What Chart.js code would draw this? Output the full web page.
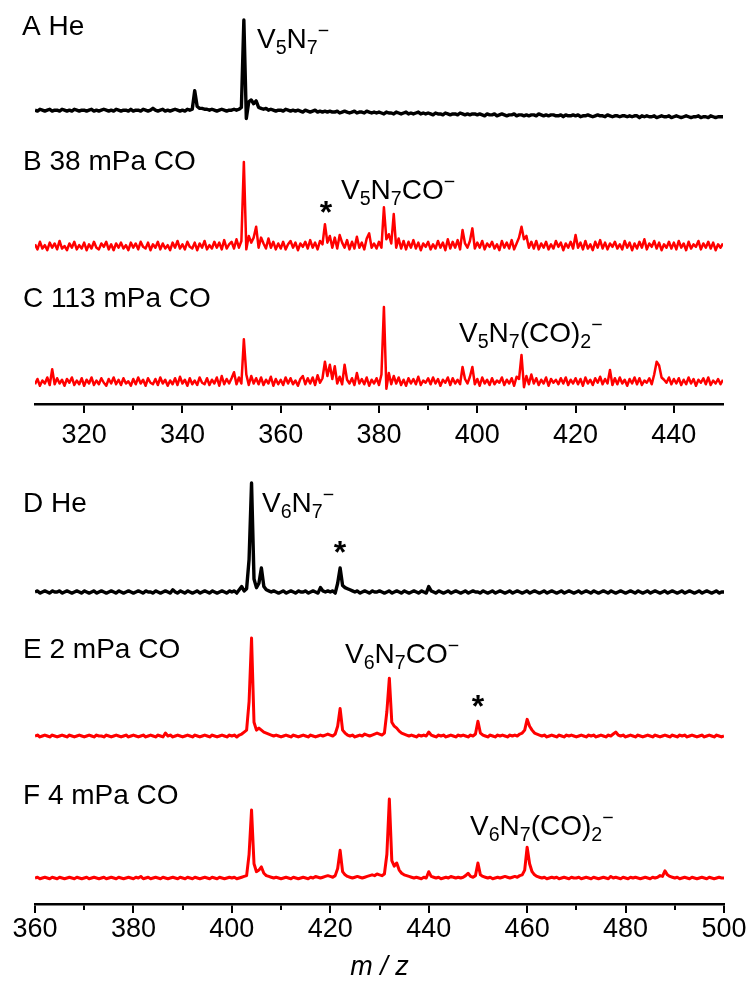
<!DOCTYPE html>
<html>
<head>
<meta charset="utf-8">
<script src="https://cdn.jsdelivr.net/npm/chart.js@4.4.1/dist/chart.umd.min.js"></script>
<style>
  html, body { margin: 0; padding: 0; background: #fff; }
  #wrap { position: relative; width: 753px; height: 996px; overflow: hidden; background: #fff; }
  canvas { position: absolute; left: 0; }
</style>
</head>
<body>
<div id="wrap">
  <canvas id="cTop" width="753" height="460" style="top:0px"></canvas>
  <canvas id="cBot" width="753" height="536" style="top:460px"></canvas>
</div>
<script>
// ---------------- DATA ----------------
// m/z sampling grid of the recorded spectra (0.5 u)
const MZ_STEP = 0.5;
const MZ_TOP_RANGE = [310, 450];
const MZ_BOT_RANGE = [360, 500];

// Relative intensities (%, tallest peak of each trace = 100), one value per 0.5 u
// Top panel traces (m/z 310 ... 450)
const spectrumA_He = [
  3,2,4,3,2,3,4,2,3,3,2,4,3,2,3,2,4,3,2,3,
  3,2,3,4,2,3,2,3,4,3,2,3,2,4,3,2,3,3,2,4,
  2,3,3,2,4,3,2,3,5,3,2,3,4,2,3,2,3,4,3,2,
  3,2,4,3,4,24,7,5,5,4,4,3,4,3,2,3,4,3,2,3,
  3,4,3,4,6,100,-6,12,14,10,13,6,5,4,5,3,4,3,2,3,
  3,2,4,3,2,3,2,3,2,1,3,2,1,2,3,1,2,1,2,1,
  2,1,1,2,0,1,2,1,0,1,2,0,1,1,0,2,1,0,1,0,
  1,0,-1,1,0,0,-1,1,0,-1,0,1,-1,0,-1,0,1,-1,0,-1,
  0,-1,-2,0,-1,-1,-2,0,-1,-2,-1,-1,-2,0,-1,-2,-1,-2,-1,-1,
  -2,-1,-2,-3,-1,-2,-2,-1,-3,-2,-1,-2,-3,-2,-2,-1,-3,-2,-2,-3,
  -2,-3,-2,-2,-3,-1,-2,-3,-2,-3,-2,-2,-3,-3,-2,-4,-2,-3,-3,-2,
  -3,-2,-4,-3,-3,-2,-3,-4,-3,-2,-3,-3,-4,-2,-3,-4,-3,-3,-4,-3,
  -3,-4,-3,-4,-3,-3,-5,-3,-4,-3,-4,-4,-3,-5,-4,-3,-4,-4,-3,-5,
  -4,-3,-4,-5,-4,-3,-4,-5,-4,-4,-3,-5,-4,-4,-5,-3,-4,-5,-4,-4,
  -4
];
const spectrumB_38mPa = [
  2,-4,5,-3,1,-5,4,-2,3,-4,6,-3,0,-5,3,-2,5,-4,1,-3,
  4,-5,2,-3,5,-2,-4,3,-1,5,-4,2,-5,3,-2,4,-3,1,-5,4,
  -2,3,-4,5,-1,-3,4,-5,2,-2,5,-4,3,-3,1,-5,4,-2,6,-3,
  2,-4,5,-1,-3,4,-5,3,-2,6,-4,1,-3,5,-2,4,-4,7,-3,2,
  5,-3,8,-2,6,100,-4,12,4,10,23,-2,10,3,-3,9,-2,5,-4,3,
  -3,5,-4,2,6,-2,4,-5,3,-1,5,-3,7,-2,4,-4,6,2,26,4,
  12,-2,10,-3,13,4,-2,7,-4,5,-3,11,-2,4,-4,9,15,-2,3,-3,
  5,-2,46,8,14,3,38,-2,9,-3,6,-4,5,-2,7,-3,4,-5,3,-1,
  5,-4,2,-3,6,-2,4,-5,8,-3,5,-2,7,-4,19,3,-2,6,21,-3,
  4,-2,6,-4,3,-1,5,-3,2,-5,6,-2,4,-3,7,-4,3,10,23,8,
  12,-2,5,-3,6,-4,3,-2,5,-4,2,-3,6,-1,4,-5,3,-2,5,-3,
  13,-2,4,-4,6,-3,2,-5,5,-2,7,-3,4,-4,3,-1,5,-3,2,-4,
  6,-2,4,-5,3,-3,5,-2,8,-4,3,-1,6,-3,4,-5,2,-2,5,-3,
  4,-4,6,-2,3,-5,5,-3,2,-1,6,-4,3,-2,5,-3,4,-5,2,-2,
  3
];
const spectrumC_113mPa = [
  -3,4,-5,2,-2,6,-4,17,-3,5,-2,3,-5,4,-1,6,-4,2,-3,5,
  -5,3,-2,6,-4,2,-3,5,-1,-5,4,-2,6,-3,3,-4,5,-2,1,-5,
  4,-3,6,-2,3,-5,5,-1,-3,4,-4,6,-2,3,-5,2,-3,5,-4,7,
  -2,3,-5,5,-3,2,-4,6,-1,-3,5,-4,3,-2,6,-5,8,-3,4,-2,
  5,13,-3,6,-2,57,10,-4,8,-2,5,-3,6,-4,3,-2,7,-5,4,-3,
  3,-4,6,-2,5,-3,2,-5,4,8,-3,5,-2,6,-4,9,-1,5,27,8,
  23,4,21,-2,7,-3,23,3,-2,5,-4,12,-2,4,-3,6,-5,3,-2,5,
  -4,10,100,-9,12,-3,8,-2,6,-4,3,-5,5,-2,4,-3,7,-4,2,-1,
  5,-3,6,-2,4,-5,3,-1,6,-4,5,-2,3,-3,20,4,-2,7,20,-3,
  4,-5,6,-2,3,-4,5,-3,2,-1,6,-4,3,-2,5,-5,7,4,36,-7,
  8,-3,10,-2,5,-4,3,-2,6,-5,4,-1,3,-3,5,-2,6,-4,3,-2,
  5,-3,4,-5,6,-2,3,-4,5,-1,7,-3,4,-2,16,-4,5,-3,6,-2,
  3,-5,4,-2,6,-3,5,-4,2,-1,5,-3,10,27,22,6,3,-1,6,-3,
  4,-2,5,-4,3,-3,6,-2,4,-5,3,-1,5,-3,6,-4,2,-2,4,-3,
  3
];
// Bottom panel traces (m/z 360 ... 500)
const spectrumD_He = [
  0,1,-1,0,1,0,-1,1,0,0,1,-1,0,1,0,-1,0,1,0,-1,
  1,0,-1,0,1,-1,0,1,0,-1,0,1,0,-1,1,0,-1,0,1,0,
  -1,0,1,0,-1,1,0,0,-1,1,0,-1,0,1,0,-1,2,0,-1,1,
  0,-1,1,0,-1,0,1,-1,0,1,0,-1,1,0,-1,0,1,0,-1,1,
  0,1,-1,2,5,1,3,30,100,12,4,8,22,5,2,1,0,1,0,-1,
  0,1,-1,0,1,0,-1,1,0,0,1,-1,0,1,0,-1,4,1,0,1,
  0,1,-1,8,22,6,4,3,2,1,0,1,-1,0,1,0,-1,1,0,0,
  1,0,-1,0,1,-1,0,1,0,-1,1,0,-1,0,1,0,-1,1,0,-1,
  5,1,0,-1,1,0,-1,0,1,-1,0,1,0,-1,0,1,-1,0,1,0,
  0,-1,1,0,-1,0,1,-1,0,1,0,-1,0,1,-1,0,1,0,-1,0,
  1,-1,0,1,0,-1,0,1,-1,0,1,0,-1,0,1,-1,0,1,0,-1,
  0,1,-1,0,1,0,-1,1,0,-1,0,1,0,-1,1,0,-1,0,1,0,
  -1,0,1,0,-1,1,0,-1,0,1,-1,0,1,0,-1,0,1,-1,0,1,
  0,-1,0,1,-1,0,1,0,-1,0,1,-1,0,1,0,-1,0,1,-1,0,
  0
];
const spectrumE_2mPa = [
  0,1,-1,0,1,0,-1,1,0,-1,0,1,0,-1,1,0,-1,0,1,0,
  -1,0,1,0,-1,1,0,0,-1,1,0,-1,0,1,0,-1,0,1,-1,0,
  1,0,-1,0,1,-1,0,1,0,-1,1,0,-1,3,0,1,-1,0,1,0,
  -1,0,1,0,-1,1,0,-1,0,1,0,-1,1,0,-1,0,1,0,-1,1,
  0,1,-1,1,2,4,6,35,100,14,6,8,6,4,3,2,1,0,1,0,
  -1,0,1,0,-1,1,0,-1,0,1,0,-1,1,0,-1,0,1,0,1,2,
  1,0,2,10,28,6,3,1,0,1,-1,0,1,0,2,1,0,1,2,3,
  2,1,3,25,59,14,10,8,5,3,2,1,0,1,0,-1,1,0,1,0,
  4,1,0,-1,1,0,1,-1,0,1,0,-1,1,0,1,0,-1,1,0,2,
  15,3,1,0,-1,1,0,-1,1,0,1,0,-1,1,0,1,0,2,3,6,
  17,10,6,3,2,1,0,1,-1,0,1,0,-1,1,0,-1,1,0,1,0,
  -1,0,1,0,-1,1,0,1,-1,0,1,0,-1,1,0,2,4,1,0,1,
  -1,0,1,0,-1,1,0,-1,0,1,0,-1,1,0,-1,0,1,0,-1,1,
  0,-1,1,0,1,-1,0,1,0,-1,0,1,-1,0,1,0,-1,1,0,-1,
  0
];
const spectrumF_4mPa = [
  0,1,-1,0,1,0,-1,1,0,-1,1,0,-1,0,1,0,-1,1,0,-1,
  0,1,-1,0,1,0,-1,0,1,-1,0,1,0,-1,1,0,-1,0,1,0,
  -1,1,0,2,-1,0,1,-1,0,1,0,-1,1,0,-1,0,1,0,-1,1,
  0,-1,1,0,-1,1,0,-1,0,1,0,-1,1,0,-1,1,0,-1,0,1,
  0,1,-1,0,1,2,3,30,86,18,8,10,14,6,3,2,1,0,1,0,
  -1,0,1,0,-1,1,0,-1,0,1,0,-1,1,0,2,1,0,1,2,3,
  2,1,3,12,35,8,4,2,1,0,1,2,1,0,1,2,3,4,3,5,
  4,3,5,30,100,22,15,19,10,6,4,3,2,1,0,1,0,-1,1,0,
  8,2,1,0,1,-1,0,1,0,2,1,0,1,0,1,3,6,2,1,3,
  19,4,2,1,0,1,-1,0,1,0,1,2,1,0,1,2,1,3,4,10,
  39,18,8,4,2,1,0,1,-1,0,1,0,1,-1,0,1,0,-1,1,0,
  0,1,-1,0,1,0,-1,1,0,-1,0,1,0,-1,2,0,1,0,-1,1,
  0,-1,1,0,1,0,-1,0,1,0,-1,1,0,1,3,2,9,4,2,1,
  0,1,-1,0,1,0,-1,1,0,-1,0,1,0,-1,1,0,-1,0,1,0,
  0
];

// Text
const panelLabels = ['A He', 'B 38 mPa CO', 'C 113 mPa CO', 'D He', 'E 2 mPa CO', 'F 4 mPa CO'];
const ionLabels = ['V_5N_7^−', 'V_5N_7CO^−', 'V_5N_7(CO)_2^−', 'V_6N_7^−', 'V_6N_7CO^−', 'V_6N_7(CO)_2^−'];
const xAxisTitle = 'm / z';

// ---------------- LAYOUT / STYLE ----------------
const FONT = '"Liberation Sans", Arial, Helvetica, sans-serif';
const BLACK = '#000000';
const RED = '#ff0000';
const LAYOUT = {
  top:    { canvasTop: 0,   height: 460, areaBottom: 404, padLeft: 35, padRight: 30, tickPad: 6 },
  bottom: { canvasTop: 460, height: 536, areaBottom: 904, padLeft: 35, padRight: 29, tickPad: 0 }
};
// page pixel of baseline (0 %) and of 100 % for each trace
const TRACE_PX = {
  A: [113, 20], B: [246, 162], C: [382, 307],
  D: [592, 483], E: [736, 638], F: [878, 799]
};
// text placement (page px, x = left, y = baseline)
const LABEL_POS = [
  { x: 22, y: 35 }, { x: 23, y: 170 }, { x: 23, y: 307 },
  { x: 23, y: 512 }, { x: 23, y: 658 }, { x: 23, y: 804 }
];
const ION_POS = [
  { x: 257, y: 48 }, { x: 341, y: 199 }, { x: 459, y: 342 },
  { x: 262, y: 512 }, { x: 345, y: 663 }, { x: 470, y: 835 }
];
const STAR_POS = [ { x: 326, y: 207 }, { x: 340, y: 547 }, { x: 478, y: 701 } ];
const TEXT_SIZE = 28;
const TICK_SIZE = 27;

// ---------------- HELPERS ----------------
function mzGrid(range) {
  const out = [];
  const n = Math.round((range[1] - range[0]) / MZ_STEP);
  for (let i = 0; i <= n; i++) out.push(range[0] + i * MZ_STEP);
  return out;
}
function toXY(mz, vals) {
  if (mz.length !== vals.length) console.error('length mismatch', mz.length, vals.length);
  return mz.map((x, i) => ({ x: x, y: vals[i] }));
}
function yRange(lay, key) {
  const areaTop = 0;
  const areaBottom = lay.areaBottom - lay.canvasTop;
  const H = areaBottom - areaTop;
  const base = TRACE_PX[key][0] - lay.canvasTop;
  const top = TRACE_PX[key][1] - lay.canvasTop;
  const R = 100 * H / (base - top);
  const max = (base - areaTop) / H * R;
  return { min: max - R, max: max };
}
function parseRich(s) {
  const parts = [];
  for (let i = 0; i < s.length; i++) {
    const c = s[i];
    if (c === '_' || c === '^') {
      parts.push({ t: s[i + 1], sub: c === '_', sup: c === '^' });
      i++;
    } else {
      const last = parts[parts.length - 1];
      if (last && !last.sub && !last.sup) last.t += c; else parts.push({ t: c });
    }
  }
  return parts;
}
function drawRich(ctx, text, x, y, size) {
  let cx = x;
  for (const p of parseRich(text)) {
    const s = (p.sub || p.sup) ? size * 0.7 : size;
    ctx.font = s + 'px ' + FONT;
    const dy = p.sub ? size * 0.22 : (p.sup ? -size * 0.38 : 0);
    ctx.fillText(p.t, cx, y + dy);
    cx += ctx.measureText(p.t).width;
  }
}

const textLayer = {
  id: 'textLayer',
  afterDraw(chart, args, opts) {
    const ctx = chart.ctx;
    ctx.save();
    ctx.fillStyle = BLACK;
    ctx.textBaseline = 'alphabetic';
    for (const it of opts.items) {
      if (it.star) {
        ctx.font = 'bold 32px ' + FONT;
        ctx.textAlign = 'center';
        const m = ctx.measureText('*');
        const y = it.y + (m.actualBoundingBoxAscent - m.actualBoundingBoxDescent) / 2;
        ctx.fillText('*', it.x, y - opts.offsetY);
      } else {
        ctx.textAlign = 'left';
        drawRich(ctx, it.text, it.x, it.y - opts.offsetY, TEXT_SIZE);
      }
    }
    ctx.restore();
  }
};

function xScale(range, lay, withTitle) {
  return {
    type: 'linear',
    position: 'bottom',
    min: range[0], max: range[1],
    afterFit: (s) => { s.height = lay.height - (lay.areaBottom - lay.canvasTop); },
    border: { display: true, color: BLACK, width: 2.5 },
    grid: {
      drawOnChartArea: false, drawTicks: true, tickLength: 9,
      color: BLACK, lineWidth: 2,
      tickColor: (c) => (c.tick && (c.tick.value === 310 || c.tick.value === 450)) ? 'rgba(0,0,0,0)' : BLACK,
      tickBorderDash: (c) => (c.tick && c.tick.value % 20 !== 0) ? [4.5, 100] : []
    },
    ticks: {
      stepSize: 10, autoSkip: false, maxRotation: 0, padding: lay.tickPad,
      color: BLACK, font: { family: FONT, size: TICK_SIZE },
      callback: (v) => (v % 20 === 0 ? String(v) : '')
    },
    title: withTitle ? {
      display: true, text: xAxisTitle, color: BLACK,
      font: { family: FONT, size: TICK_SIZE, style: 'italic' },
      padding: { top: 0, bottom: 12 }
    } : { display: false }
  };
}

function hiddenY(lay, key) {
  const r = yRange(lay, key);
  return { type: 'linear', display: false, min: r.min, max: r.max };
}

function trace(mz, vals, axis, color, width) {
  return {
    data: toXY(mz, vals), yAxisID: axis,
    borderColor: color, borderWidth: width, borderJoinStyle: 'round',
    pointRadius: 0, tension: 0, fill: false
  };
}

const mzTop = mzGrid(MZ_TOP_RANGE);
const mzBot = mzGrid(MZ_BOT_RANGE);

const commonOpts = (lay) => ({
  responsive: false, animation: false, devicePixelRatio: 1, parsing: false,
  layout: { padding: { left: lay.padLeft, right: lay.padRight, top: 0, bottom: 0 } },
  plugins: { legend: { display: false }, tooltip: { enabled: false } }
});

// ---- top chart ----
{
  const lay = LAYOUT.top;
  const o = commonOpts(lay);
  o.scales = {
    x: xScale(MZ_TOP_RANGE, lay, false),
    yA: hiddenY(lay, 'A'), yB: hiddenY(lay, 'B'), yC: hiddenY(lay, 'C')
  };
  o.plugins.textLayer = {
    offsetY: lay.canvasTop,
    items: [
      { text: panelLabels[0], ...LABEL_POS[0] }, { text: ionLabels[0], ...ION_POS[0] },
      { text: panelLabels[1], ...LABEL_POS[1] }, { text: ionLabels[1], ...ION_POS[1] },
      { text: panelLabels[2], ...LABEL_POS[2] }, { text: ionLabels[2], ...ION_POS[2] },
      { star: true, ...STAR_POS[0] }
    ]
  };
  new Chart(document.getElementById('cTop'), {
    type: 'line',
    data: { datasets: [
      trace(mzTop, spectrumA_He, 'yA', BLACK, 3.4),
      trace(mzTop, spectrumB_38mPa, 'yB', RED, 2.5),
      trace(mzTop, spectrumC_113mPa, 'yC', RED, 2.5)
    ] },
    options: o,
    plugins: [textLayer]
  });
}
// ---- bottom chart ----
{
  const lay = LAYOUT.bottom;
  const o = commonOpts(lay);
  o.scales = {
    x: xScale(MZ_BOT_RANGE, lay, true),
    yD: hiddenY(lay, 'D'), yE: hiddenY(lay, 'E'), yF: hiddenY(lay, 'F')
  };
  o.plugins.textLayer = {
    offsetY: lay.canvasTop,
    items: [
      { text: panelLabels[3], ...LABEL_POS[3] }, { text: ionLabels[3], ...ION_POS[3] },
      { text: panelLabels[4], ...LABEL_POS[4] }, { text: ionLabels[4], ...ION_POS[4] },
      { text: panelLabels[5], ...LABEL_POS[5] }, { text: ionLabels[5], ...ION_POS[5] },
      { star: true, ...STAR_POS[1] }, { star: true, ...STAR_POS[2] }
    ]
  };
  new Chart(document.getElementById('cBot'), {
    type: 'line',
    data: { datasets: [
      trace(mzBot, spectrumD_He, 'yD', BLACK, 3.4),
      trace(mzBot, spectrumE_2mPa, 'yE', RED, 3),
      trace(mzBot, spectrumF_4mPa, 'yF', RED, 3)
    ] },
    options: o,
    plugins: [textLayer]
  });
}
</script>
</body>
</html>
